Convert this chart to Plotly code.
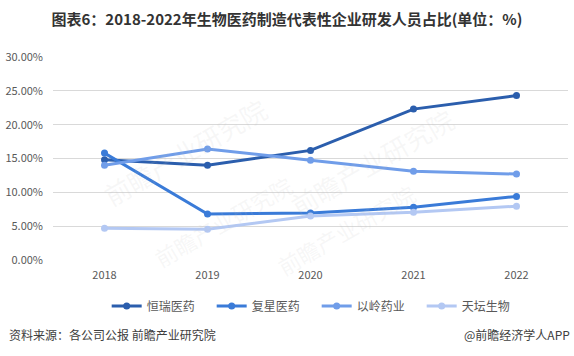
import plotly.graph_objects as go

years = ["2018", "2019", "2020", "2021", "2022"]
hengrui = [14.8, 14.0, 16.2, 22.3, 24.3]
fosun = [15.8, 6.8, 6.95, 7.8, 9.4]
yiling = [14.0, 16.4, 14.75, 13.1, 12.7]
tiantan = [4.7, 4.55, 6.5, 7.05, 7.95]
names = ["恒瑞医药", "复星医药", "以岭药业", "天坛生物"]
colors = ["#2B5EAD", "#3A7BD8", "#709DE9", "#B3C8F3"]
yticks = [0, 5, 10, 15, 20, 25, 30]

FONT = "Noto Sans CJK SC"
fig = go.Figure()

# faint watermarks
for (x, y, s) in [(0.08, 0.85, 26), (0.62, 0.8, 26), (0.18, -0.08, 22), (0.72, -0.12, 22)]:
    fig.add_annotation(xref="paper", yref="paper", x=x, y=y, text="前瞻产业研究院",
                       showarrow=False, textangle=-30,
                       font=dict(family=FONT, size=s, color="rgba(190,190,190,0.12)"))

for name, vals, c in zip(names, [hengrui, fosun, yiling, tiantan], colors):
    fig.add_trace(go.Scatter(x=years, y=vals, name=name, mode="lines+markers",
                             line=dict(color=c, width=3),
                             marker=dict(color=c, size=7)))

fig.update_layout(
    width=574, height=356,
    margin=dict(l=53, r=6, t=57, b=96, autoexpand=False),
    paper_bgcolor="white", plot_bgcolor="white",
    font=dict(family=FONT, color="#595959", size=11),
    title=dict(text="<b>图表6：2018-2022年生物医药制造代表性企业研发人员占比(单位：%)</b>",
               x=0.5, xanchor="center", yref="container", y=1 - 20 / 356, yanchor="middle",
               font=dict(family=FONT, size=15, color="#333333")),
    showlegend=True,
    legend=dict(orientation="h", x=0.512, xanchor="center", y=-0.155, yanchor="top",
                font=dict(family=FONT, size=12, color="#595959"),
                itemwidth=30, entrywidth=60, entrywidthmode="pixels", tracegroupgap=0),
    xaxis=dict(type="category", range=[-0.5, 4.5], showgrid=False,
               showline=False, ticks="", ticklabelstandoff=7,
               tickfont=dict(size=11, color="#595959")),
    yaxis=dict(range=[0, 30], tickvals=yticks,
               ticktext=[f"{v:.2f}%" for v in yticks],
               showgrid=True, gridcolor="#D9D9D9", gridwidth=1,
               zeroline=False, showline=False, ticks="", ticklabelstandoff=9,
               tickfont=dict(size=11, color="#595959")),
)

fig.add_annotation(xref="paper", yref="paper", x=-0.0893, y=-0.369, xanchor="left", yanchor="middle",
                   text="资料来源：各公司公报 前瞻产业研究院", showarrow=False,
                   font=dict(family=FONT, size=12, color="#404040"))
fig.add_annotation(xref="paper", yref="paper", x=1.007, y=-0.369, xanchor="right", yanchor="middle",
                   text="@前瞻经济学人APP", showarrow=False,
                   font=dict(family=FONT, size=12, color="#404040"))

fig.write_html("out.html", config={"displayModeBar": False},
               post_script="document.body.style.margin='0';")
